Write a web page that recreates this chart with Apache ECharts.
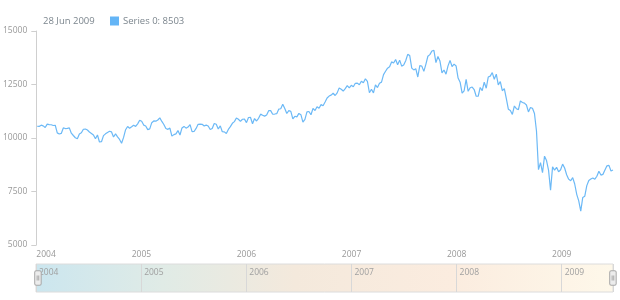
<!DOCTYPE html>
<html>
<head>
<meta charset="utf-8">
<script src="https://cdn.jsdelivr.net/npm/echarts@6/dist/echarts.min.js"></script>
<style>
html,body{margin:0;padding:0;background:#fff;}
#chart{width:620px;height:300px;}
</style>
</head>
<body>
<div id="chart"></div>
<script>
// Weekly observations, first week starting on this Sunday, one value per week
const START_DATE = '2004-01-04';
const SERIES_NAME = 'Series 0';
const values2004 = [10550,10540,10600,10568,10488,10650,10628,10620,10584,10596,10240,10186,10213,10470,10442,10452,10472,10226,10117,10012,9966,10188,10243,10410,10417,10371,10283,10213,10140,9962,10140,9815,9825,10110,10195,10260,10314,10284,10047,10192,10055,9933,9758,10027,10387,10539,10456,10522,10592,10543,10661,10828,10783];
const values2005 = [10603,10558,10393,10427,10716,10796,10785,10841,10941,10774,10629,10442,10404,10461,10088,10157,10193,10345,10140,10471,10542,10460,10512,10623,10297,10303,10449,10640,10651,10641,10558,10600,10559,10397,10447,10679,10641,10419,10569,10292,10287,10215,10402,10531,10686,10766,10931,10877,10778,10875,10883,10718];
const values2006 = [10959,10960,10668,10907,10794,10920,11115,11061,11022,11076,11279,11280,11109,11120,11137,11347,11367,11578,11380,11144,11278,11247,10891,11015,10989,11150,11091,10739,10868,11219,11240,11088,11381,11284,11464,11392,11560,11509,11679,11867,11960,12002,12090,11986,12108,12342,12280,12194,12307,12445,12343,12463];
const values2007 = [12398,12556,12565,12487,12653,12581,12767,12647,12114,12276,12110,12481,12354,12560,12612,12961,13120,13265,13327,13556,13507,13668,13424,13639,13360,13408,13611,13908,13851,13265,13182,13240,12850,13379,13358,13113,13442,13821,13896,14066,14093,13523,13807,13596,13043,13177,12981,13372,13625,13340,13451,13366];
const values2008 = [12800,12606,12099,12207,12743,12183,12348,12381,12266,11950,11951,12361,12216,12609,12325,12849,12891,13058,12745,12986,12480,12638,12209,12307,11843,11346,11288,11100,11496,11370,11326,11734,11659,11628,11543,11220,11421,11388,11143,10325,8520,8852,8378,9150,8943,8497,7560,8650,8500,8629,8420,8515];
const values2009 = [8780,8599,8281,8077,8000,8150,7850,7366,7063,6580,7224,7279,7776,8018,8083,8131,8076,8212,8450,8268,8300,8500,8700,8720,8460,8503];
const yTicks = [5000, 7500, 10000, 12500, 15000];
const yearTicks = [2004, 2005, 2006, 2007, 2008, 2009];

const values = [].concat(values2004, values2005, values2006, values2007, values2008, values2009);
const MONTHS = ['Jan','Feb','Mar','Apr','May','Jun','Jul','Aug','Sep','Oct','Nov','Dec'];
const start = new Date(START_DATE + 'T00:00:00Z');
const dates = values.map((_, i) => new Date(start.getTime() + i * 7 * 86400000));
function fracYear(d) {
  const y = d.getUTCFullYear();
  const a = Date.UTC(y, 0, 1), b = Date.UTC(y + 1, 0, 1);
  return y + (d.getTime() - a) / (b - a);
}
const xs = dates.map(fracYear);
const seriesData = values.map((v, i) => [xs[i], v]);
const lastDate = dates[dates.length - 1];
const lastLabel = lastDate.getUTCDate() + ' ' + MONTHS[lastDate.getUTCMonth()] + ' ' + lastDate.getUTCFullYear();
const lastValue = values[values.length - 1];
const xMin = yearTicks[0];
const xMax = xs[xs.length - 1];

const FONT = 'Open Sans';
const chart = echarts.init(document.getElementById('chart'), null, {renderer: 'canvas'});
chart.setOption({
  animation: false,
  backgroundColor: '#fff',
  title: {
    text: lastLabel, left: 38, top: 11,
    textStyle: {fontFamily: FONT, fontSize: 9.5, fontWeight: 'normal', color: '#7c868e'}
  },
  legend: {
    left: 105, top: 11, itemWidth: 9, itemHeight: 9, itemGap: 4,
    icon: 'rect', selectedMode: false,
    data: [SERIES_NAME],
    formatter: name => name + ': ' + lastValue,
    textStyle: {fontFamily: FONT, fontSize: 9.5, color: '#7c868e', padding: [0,0,0,-1]}
  },
  grid: [
    {left: 36, right: 7, top: 31, bottom: 55, containLabel: false},
    {left: 36, right: 7, top: 264, height: 28, show: true, borderColor: '#dcdcdc', borderWidth: 1,
     backgroundColor: {type: 'linear', x: 0, y: 0, x2: 1, y2: 0.3, colorStops: [
       {offset: 0, color: '#cbe6ef'}, {offset: 0.22, color: '#e0ebe6'}, {offset: 0.45, color: '#f4e9dc'},
       {offset: 0.72, color: '#fbecdf'}, {offset: 1, color: '#fef8ea'}]}}
  ],
  xAxis: [
    {type: 'value', gridIndex: 0, min: xMin, max: xMax, interval: 1,
     axisLine: {show: false}, axisTick: {show: false}, splitLine: {show: false},
     axisLabel: {fontFamily: FONT, fontSize: 8.5, color: '#999', margin: 5,
       showMaxLabel: false, alignMinLabel: 'left',
       formatter: v => Number.isInteger(v) ? String(v) : ''}},
    {type: 'value', gridIndex: 1, min: xMin, max: xMax, interval: 1, position: 'top',
     axisLine: {show: false}, axisTick: {show: false},
     splitLine: {show: true, lineStyle: {color: '#d8d8d8', width: 1}},
     axisLabel: {inside: true, fontFamily: FONT, fontSize: 8.5, color: '#a0a0a0', margin: 4,
       align: 'left', verticalAlign: 'top', padding: [0,0,0,3], showMaxLabel: false,
       formatter: v => Number.isInteger(v) ? String(v) : ''}}
  ],
  yAxis: [
    {type: 'value', gridIndex: 0, min: yTicks[0], max: yTicks[yTicks.length - 1], interval: 2500,
     axisLine: {show: true, lineStyle: {color: '#cfcfcf'}},
     axisTick: {show: true, length: 5, lineStyle: {color: '#cfcfcf'}},
     splitLine: {show: false},
     axisLabel: {fontFamily: FONT, fontSize: 8.5, color: '#999', margin: 9,
       formatter: v => String(v)}},
    {type: 'value', gridIndex: 1, show: false, min: 0, max: 1}
  ],
  dataZoom: [{
    type: 'slider', xAxisIndex: [0], filterMode: 'none', start: 0, end: 100,
    left: 36, right: 7, top: 264, height: 28,
    showDataShadow: false, showDetail: false, brushSelect: false,
    backgroundColor: 'rgba(0,0,0,0)', fillerColor: 'rgba(0,0,0,0)', borderColor: 'rgba(0,0,0,0)',
    moveHandleSize: 0,
    handleIcon: 'path://M2,0 h4 a2,2 0 0 1 2,2 v14 a2,2 0 0 1 -2,2 h-4 a2,2 0 0 1 -2,-2 v-14 a2,2 0 0 1 2,-2 Z M3,6 v6 M5,6 v6',
    handleSize: '52%',
    handleStyle: {color: '#ececec', borderColor: '#a8a8a8', borderWidth: 1},
    emphasis: {handleStyle: {color: '#ececec', borderColor: '#a8a8a8'}}
  }],
  series: [{
    name: SERIES_NAME, type: 'line', xAxisIndex: 0, yAxisIndex: 0,
    data: seriesData, showSymbol: false, symbol: 'none',
    lineStyle: {color: '#6cb9f6', width: 1.2}, itemStyle: {color: '#64b5f6'}
  }]
});
</script>
</body>
</html>
